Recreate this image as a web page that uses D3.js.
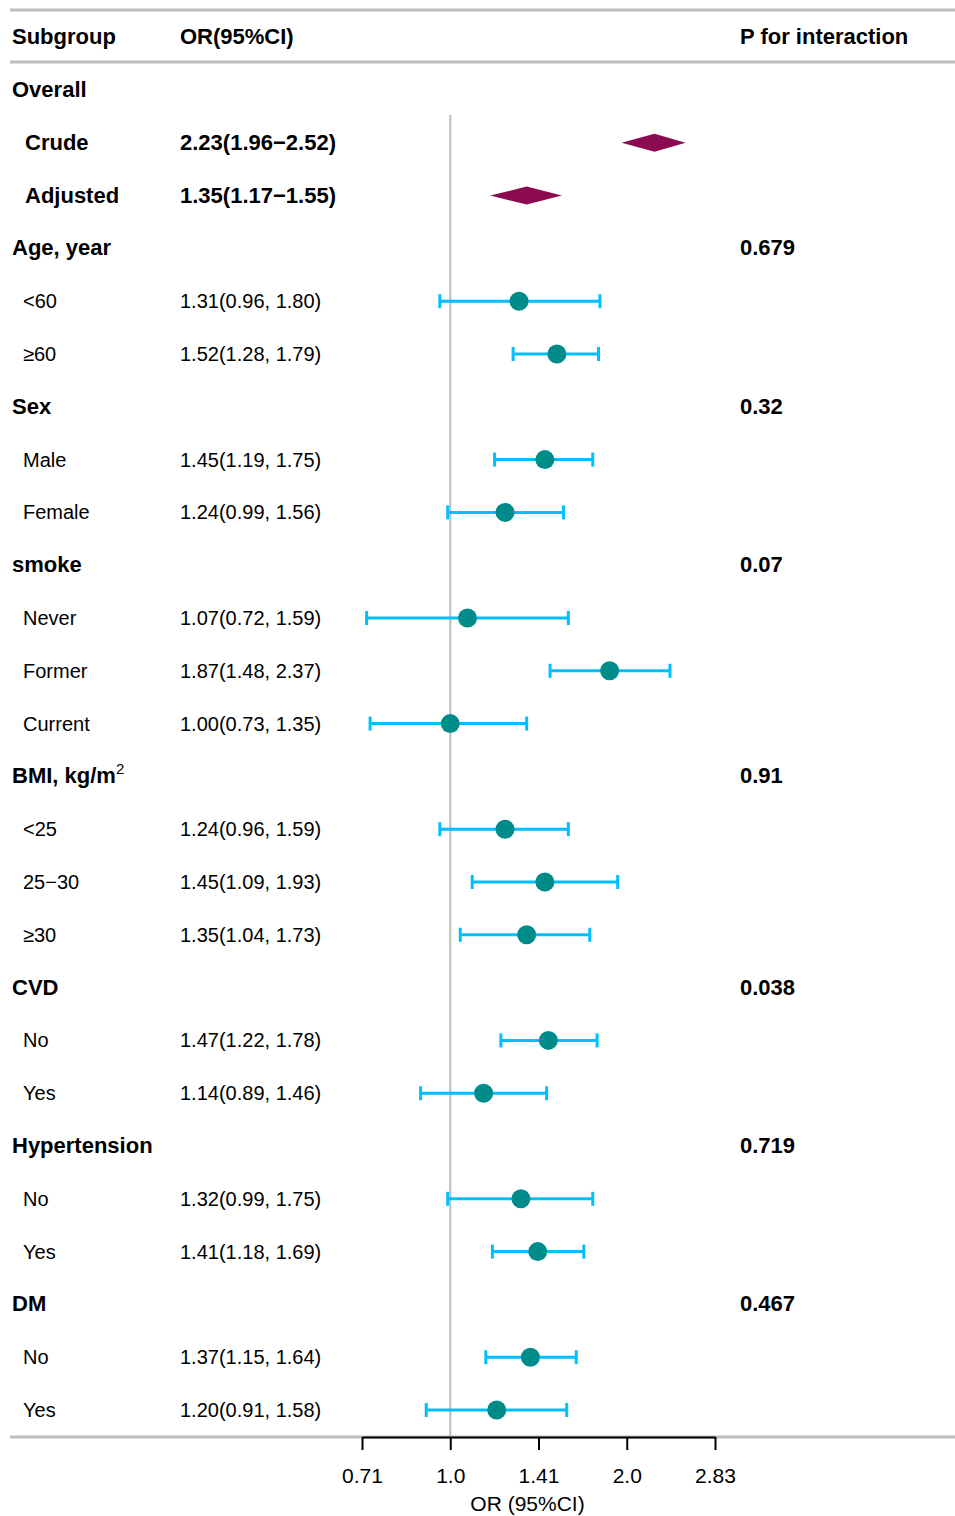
<!DOCTYPE html>
<html>
<head>
<meta charset="utf-8">
<script src="https://cdn.jsdelivr.net/npm/d3@7"></script>
<style>
  body { margin: 0; background: #fff; }
  text { font-family: "Liberation Sans", Arial, sans-serif; fill: #000; }
</style>
</head>
<body>
<script>
// rows top to bottom, type: g = group header, s = summary diamond, r = subgroup row
const labels = ["Overall", "Crude", "Adjusted", "Age, year", "<60", "\u226560", "Sex", "Male", "Female",
  "smoke", "Never", "Former", "Current", "BMI, kg/m", "<25", "25\u221230", "\u226530",
  "CVD", "No", "Yes", "Hypertension", "No", "Yes", "DM", "No", "Yes"];
const types = ["g", "s", "s", "g", "r", "r", "g", "r", "r", "g", "r", "r", "r", "g", "r", "r", "r",
  "g", "r", "r", "g", "r", "r", "g", "r", "r"];
const est = [null, 2.23, 1.35, null, 1.31, 1.52, null, 1.45, 1.24, null, 1.07, 1.87, 1.00, null, 1.24, 1.45, 1.35,
  null, 1.47, 1.14, null, 1.32, 1.41, null, 1.37, 1.20];
const lo = [null, 1.96, 1.17, null, 0.96, 1.28, null, 1.19, 0.99, null, 0.72, 1.48, 0.73, null, 0.96, 1.09, 1.04,
  null, 1.22, 0.89, null, 0.99, 1.18, null, 1.15, 0.91];
const hi = [null, 2.52, 1.55, null, 1.80, 1.79, null, 1.75, 1.56, null, 1.59, 2.37, 1.35, null, 1.59, 1.93, 1.73,
  null, 1.78, 1.46, null, 1.75, 1.69, null, 1.64, 1.58];
const orText = ["", "2.23(1.96\u22122.52)", "1.35(1.17\u22121.55)", "", "1.31(0.96, 1.80)", "1.52(1.28, 1.79)", "",
  "1.45(1.19, 1.75)", "1.24(0.99, 1.56)", "", "1.07(0.72, 1.59)", "1.87(1.48, 2.37)", "1.00(0.73, 1.35)", "",
  "1.24(0.96, 1.59)", "1.45(1.09, 1.93)", "1.35(1.04, 1.73)", "", "1.47(1.22, 1.78)", "1.14(0.89, 1.46)", "",
  "1.32(0.99, 1.75)", "1.41(1.18, 1.69)", "", "1.37(1.15, 1.64)", "1.20(0.91, 1.58)"];
const pInt = ["", "", "", "0.679", "", "", "0.32", "", "", "0.07", "", "", "", "0.91", "", "", "",
  "0.038", "", "", "0.719", "", "", "0.467", "", ""];
const tickVals = [0.7071, 1, 1.4142, 2, 2.8284];
const tickLabels = ["0.71", "1.0", "1.41", "2.0", "2.83"];

const W = 955, H = 1516;
const svg = d3.select("body").append("svg").attr("width", W).attr("height", H);

const x = d3.scaleLog().base(2).domain([0.7071, 2.8284]).range([362, 715]);
const y = d3.scaleLinear().domain([0, labels.length - 1]).range([90, 1410]);

// horizontal rules
[10, 62, 1437].forEach(yy => {
  svg.append("line").attr("x1", 10).attr("x2", W).attr("y1", yy).attr("y2", yy)
    .attr("stroke", "#bdbdbd").attr("stroke-width", 3);
});

// header
const hdr = svg.append("g").style("font-weight", "bold").style("font-size", "22px");
hdr.append("text").attr("x", 12).attr("y", 44).text("Subgroup");
hdr.append("text").attr("x", 180).attr("y", 44).text("OR(95%CI)");
hdr.append("text").attr("x", 740).attr("y", 44).text("P for interaction");

// reference line at OR = 1
svg.append("line").attr("x1", x(1)).attr("x2", x(1)).attr("y1", 115).attr("y2", 1437)
  .attr("stroke", "#bdbdbd").attr("stroke-width", 2);

const rows = svg.append("g").selectAll("g").data(labels.map((l, i) => i)).join("g")
  .attr("transform", i => `translate(0,${y(i)})`);

// label column
rows.append("text")
  .attr("x", i => types[i] === "g" ? 12 : (types[i] === "s" ? 25 : 23))
  .attr("y", 7)
  .style("font-weight", i => types[i] === "r" ? "normal" : "bold")
  .style("font-size", i => types[i] === "r" ? "20px" : "22px")
  .each(function(i) {
    const t = d3.select(this);
    t.text(labels[i]);
    if (labels[i] === "BMI, kg/m") {
      t.append("tspan").attr("dy", -9).style("font-size", "15px").style("font-weight", "normal").text("2");
    }
  });

// OR column
rows.append("text").attr("x", 180).attr("y", 7)
  .style("font-weight", i => types[i] === "s" ? "bold" : "normal")
  .style("font-size", i => types[i] === "s" ? "22px" : "20px")
  .text(i => orText[i]);

// P for interaction
rows.append("text").attr("x", 740).attr("y", 7)
  .style("font-weight", "bold").style("font-size", "22px")
  .text(i => pInt[i]);

// summary diamonds
rows.filter(i => types[i] === "s").append("path")
  .attr("d", i => `M${x(lo[i])},0 L${x(est[i])},-9 L${x(hi[i])},0 L${x(est[i])},9 Z`)
  .attr("fill", "#8b0a50");

// CI bars
const ci = rows.filter(i => types[i] === "r");
ci.append("line").attr("x1", i => x(lo[i])).attr("x2", i => x(hi[i]))
  .attr("stroke", "#00bfff").attr("stroke-width", 3);
["lo", "hi"].forEach(k => {
  ci.append("line")
    .attr("x1", i => x(k === "lo" ? lo[i] : hi[i])).attr("x2", i => x(k === "lo" ? lo[i] : hi[i]))
    .attr("y1", -7).attr("y2", 7)
    .attr("stroke", "#00bfff").attr("stroke-width", 3);
});
ci.append("circle").attr("cx", i => x(est[i])).attr("r", 9.5).attr("fill", "#008b8b");

// axis
const axis = d3.axisBottom(x).tickValues(tickVals).tickFormat((d, i) => tickLabels[i])
  .tickSize(13).tickPadding(18).tickSizeOuter(0);
const ax = svg.append("g").attr("transform", "translate(0,1437)").call(axis);
ax.select(".domain").attr("stroke", "#000").attr("stroke-width", 2);
ax.selectAll(".tick line").attr("stroke", "#000").attr("stroke-width", 2);
ax.selectAll(".tick text").style("font-size", "21px").style("font-family", "Liberation Sans, Arial, sans-serif").attr("fill", "#000");

svg.append("text").attr("x", x(1.4142) - 11).attr("y", 1511).attr("text-anchor", "middle")
  .style("font-size", "21px").text("OR (95%CI)");
</script>
</body>
</html>
